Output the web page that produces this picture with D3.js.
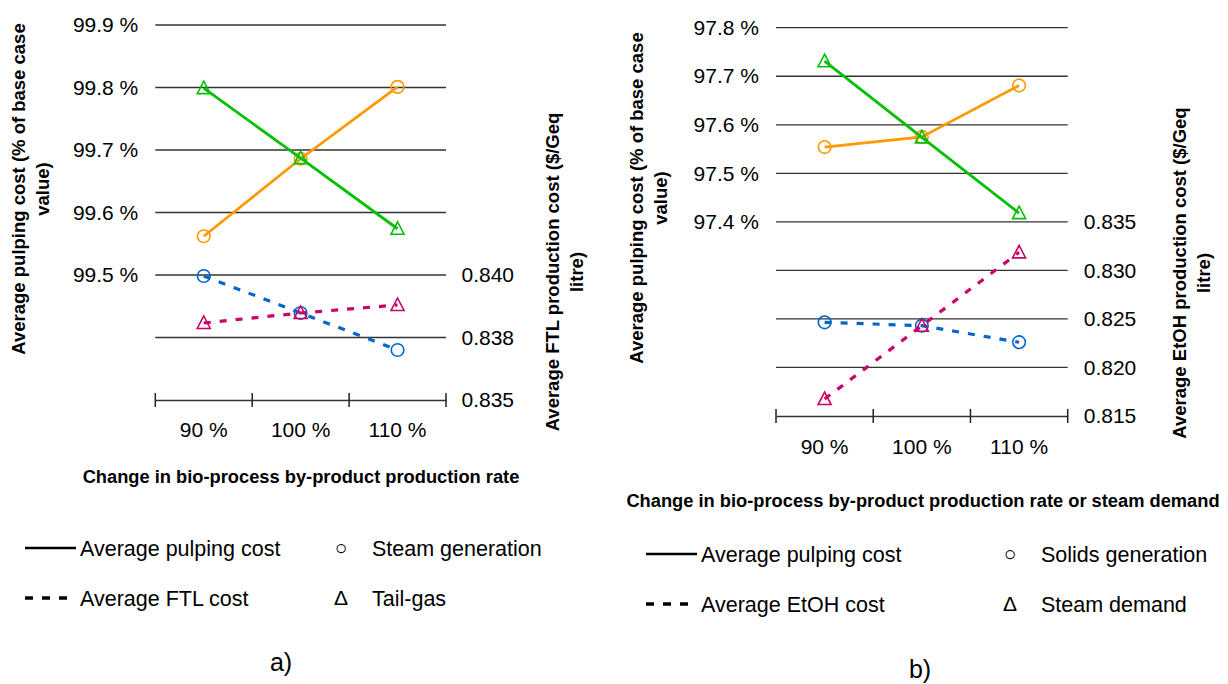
<!DOCTYPE html>
<html>
<head>
<meta charset="utf-8">
<script src="https://cdn.jsdelivr.net/npm/d3@7"></script>
<style>
	body { margin: 0; background: #fff; }
	text { font-family: "Liberation Sans", Arial, sans-serif; }
</style>
</head>
<body>
<div id="chart"></div>
<script>

//data
const categories = ["90 %", "100 %", "110 %"];

// panel a
const aSteamPulping = [99.562, 99.686, 99.801];
const aTailPulping = [99.799, 99.687, 99.574];
const aSteamFtl = [0.83996, 0.83848, 0.8370];
const aTailFtl = [0.83808, 0.83848, 0.8388];
const aLeftTicks = [99.5, 99.6, 99.7, 99.8, 99.9];
const aGridTicks = [99.4, 99.5, 99.6, 99.7, 99.8, 99.9];
const aRightTicks = [0.835, 0.8375, 0.840];

// panel b
const bSolidsPulping = [97.554, 97.575, 97.681];
const bSteamPulping = [97.731, 97.574, 97.418];
const bSolidsEtoh = [0.82465, 0.8243, 0.8226];
const bSteamEtoh = [0.81675, 0.8243, 0.83186];
const bLeftTicks = [97.4, 97.5, 97.6, 97.7, 97.8];
const bGridTicks = [97.1, 97.2, 97.3, 97.4, 97.5, 97.6, 97.7, 97.8];
const bRightTicks = [0.815, 0.820, 0.825, 0.830, 0.835];

const orange = "#ff9900", green = "#00c000", blue = "#0066cc", magenta = "#cc0066";

const width = 1228, height = 684;

let svg = d3.select("#chart")
	.append("svg")
	.attr("width", width)
	.attr("height", height);


function drawPanel(p){

	let g = svg.append("g");

	let x = d3.scaleBand()
		.domain(categories)
		.range([p.x0, p.x1])
		.padding(0);

	let yL = d3.scaleLinear().domain(p.leftDomain).range([p.yBottom, p.yTop]);
	let yR = d3.scaleLinear().domain(p.rightDomain).range([p.yBottom, p.yTop]);

	//gridlines
	g.selectAll(".grid")
		.data(p.grid)
		.enter().append("line")
		.attr("x1", p.x0)
		.attr("x2", p.x1)
		.attr("y1", d => yL(d))
		.attr("y2", d => yL(d))
		.attr("stroke", "#333")
		.attr("stroke-width", 1.3);

	//x axis
	let xAxis = g.append("g")
		.attr("transform", "translate(0," + p.yBottom + ")")
		.call(d3.axisBottom(x).tickSize(0).tickPadding(p.xPad));
	xAxis.select(".domain").attr("stroke", "#333").attr("stroke-width", 1.5);
	xAxis.selectAll("text").attr("font-size", 21).attr("fill", "#000")
		.attr("font-family", "Liberation Sans, Arial, sans-serif");

	//band edge ticks
	let edges = categories.map(c => x(c)).concat([p.x1]);
	g.selectAll(".edge")
		.data(edges)
		.enter().append("line")
		.attr("x1", d => d).attr("x2", d => d)
		.attr("y1", p.yBottom - 7).attr("y2", p.yBottom + 7)
		.attr("stroke", "#222").attr("stroke-width", 1.5);

	//left axis labels
	let leftAxis = g.append("g")
		.attr("transform", "translate(" + p.x0 + ",0)")
		.call(d3.axisLeft(yL).tickValues(p.leftTicks).tickSize(0).tickPadding(p.lPad)
			.tickFormat(d => d3.format(".1f")(d) + " %"));
	leftAxis.select(".domain").remove();
	leftAxis.selectAll("text").attr("font-size", 21).attr("fill", "#000")
		.attr("font-family", "Liberation Sans, Arial, sans-serif");

	//right axis labels
	let rightAxis = g.append("g")
		.attr("transform", "translate(" + p.x1 + ",0)")
		.call(d3.axisRight(yR).tickValues(p.rightTicks).tickSize(0).tickPadding(p.rPad)
			.tickFormat(d => d3.format(".3f")(d + 1e-9)));
	rightAxis.select(".domain").remove();
	rightAxis.selectAll("text").attr("font-size", 21).attr("fill", "#000")
		.attr("font-family", "Liberation Sans, Arial, sans-serif");

	//axis titles
	function vTitle(cx, cy, lines){
		let t = g.append("text")
			.attr("transform", "translate(" + cx + "," + cy + ") rotate(-90)")
			.attr("text-anchor", "middle")
			.attr("font-size", 18.5)
			.attr("font-weight", "bold");
		lines.forEach((l, i) => {
			t.append("tspan").attr("x", 0).attr("dy", i == 0 ? 0 : 24).text(l);
		});
	}
	vTitle(p.leftTitleX, p.leftTitleY, p.leftTitle);
	vTitle(p.rightTitleX, p.rightTitleY, p.rightTitle);

	g.append("text")
		.attr("x", p.xTitleX)
		.attr("y", p.xTitleY)
		.attr("text-anchor", "middle")
		.attr("font-size", 18.3)
		.attr("font-weight", "bold")
		.text(p.xTitle);

	//series
	let cx = d => x(d.c) + x.bandwidth() / 2;

	p.series.forEach(s => {
		let y = s.axis == "left" ? yL : yR;
		let pts = categories.map((c, i) => ({c: c, v: s.values[i]}));

		g.append("path")
			.datum(pts)
			.attr("fill", "none")
			.attr("stroke", s.color)
			.attr("stroke-width", s.axis == "left" ? 2.8 : 3.2)
			.attr("stroke-dasharray", s.axis == "left" ? null : "7,9")
			.attr("d", d3.line().x(cx).y(d => y(d.v)));

		if(s.marker == "circle"){
			g.selectAll(null)
				.data(pts)
				.enter().append("circle")
				.attr("cx", cx)
				.attr("cy", d => y(d.v))
				.attr("r", 6.3)
				.attr("fill", "none")
				.attr("stroke", s.color)
				.attr("stroke-width", 1.6);
		} else {
			g.selectAll(null)
				.data(pts)
				.enter().append("path")
				.attr("transform", d => "translate(" + cx(d) + "," + y(d.v) + ")")
				.attr("d", "M0,-7 L6.5,5.5 L-6.5,5.5 Z")
				.attr("fill", "none")
				.attr("stroke", s.color)
				.attr("stroke-width", 1.6);
		}
	});

	//legend
	let lg = g.append("g");
	lg.append("line")
		.attr("x1", p.legX).attr("x2", p.legX + 51)
		.attr("y1", p.legY).attr("y2", p.legY)
		.attr("stroke", "#000").attr("stroke-width", 2.4);
	lg.append("line")
		.attr("x1", p.legX).attr("x2", p.legX + 51)
		.attr("y1", p.legY + 50).attr("y2", p.legY + 50)
		.attr("stroke", "#000").attr("stroke-width", 3.4)
		.attr("stroke-dasharray", "8,9");

	let legText = [
		{x: p.legX + 55, y: p.legY, t: p.legend[0]},
		{x: p.legX + 55, y: p.legY + 50, t: p.legend[1]},
		{x: p.legX2 + 31, y: p.legY, t: p.legend[2]},
		{x: p.legX2 + 31, y: p.legY + 50, t: p.legend[3]},
		{x: p.legX2, y: p.legY, t: "○"},
		{x: p.legX2, y: p.legY + 50, t: "Δ"}
	];
	lg.selectAll("text")
		.data(legText)
		.enter().append("text")
		.attr("x", d => d.x)
		.attr("y", d => d.y)
		.attr("dy", "0.35em")
		.attr("font-size", d => d.t.length == 1 ? 21 : 21.5)
		.attr("text-anchor", d => d.t.length == 1 ? "middle" : "start")
		.text(d => d.t);

	//caption
	g.append("text")
		.attr("x", p.capX)
		.attr("y", p.capY)
		.attr("text-anchor", "middle")
		.attr("font-family", "Liberation Serif, Times New Roman, serif")
		.attr("font-size", 25)
		.text(p.caption);
}


drawPanel({
	x0: 155.3, x1: 446, yTop: 25, yBottom: 400, xPad: 22.5, lPad: 17, rPad: 15.5,
	leftDomain: [99.3, 99.9], rightDomain: [0.835, 0.850],
	leftTicks: aLeftTicks, grid: aGridTicks, rightTicks: aRightTicks,
	leftTitle: ["Average pulping cost (% of base case", "value)"],
	leftTitleX: 24.5, leftTitleY: 189,
	rightTitle: ["Average FTL production cost ($/Geq", "litre)"],
	rightTitleX: 559, rightTitleY: 272,
	xTitle: "Change in bio-process by-product production rate",
	xTitleX: 301, xTitleY: 483,
	series: [
		{values: aSteamPulping, axis: "left", color: orange, marker: "circle"},
		{values: aTailPulping, axis: "left", color: green, marker: "triangle"},
		{values: aSteamFtl, axis: "right", color: blue, marker: "circle"},
		{values: aTailFtl, axis: "right", color: magenta, marker: "triangle"}
	],
	legend: ["Average pulping cost", "Average FTL cost", "Steam generation", "Tail-gas"],
	legX: 25, legY: 548, legX2: 341,
	caption: "a)", capX: 281, capY: 671
});

drawPanel({
	x0: 776, x1: 1067.7, yTop: 27.7, yBottom: 416, xPad: 23, lPad: 17, rPad: 16,
	leftDomain: [97.0, 97.8], rightDomain: [0.815, 0.855],
	leftTicks: bLeftTicks, grid: bGridTicks, rightTicks: bRightTicks,
	leftTitle: ["Average pulping cost (% of base case", "value)"],
	leftTitleX: 643, leftTitleY: 198,
	rightTitle: ["Average EtOH production cost ($/Geq", "litre)"],
	rightTitleX: 1186, rightTitleY: 273,
	xTitle: "Change in bio-process by-product production rate or steam demand",
	xTitleX: 923, xTitleY: 507,
	series: [
		{values: bSolidsPulping, axis: "left", color: orange, marker: "circle"},
		{values: bSteamPulping, axis: "left", color: green, marker: "triangle"},
		{values: bSolidsEtoh, axis: "right", color: blue, marker: "circle"},
		{values: bSteamEtoh, axis: "right", color: magenta, marker: "triangle"}
	],
	legend: ["Average pulping cost", "Average EtOH cost", "Solids generation", "Steam demand"],
	legX: 646, legY: 554, legX2: 1010,
	caption: "b)", capX: 920, capY: 678
});

</script>
</body>
</html>
